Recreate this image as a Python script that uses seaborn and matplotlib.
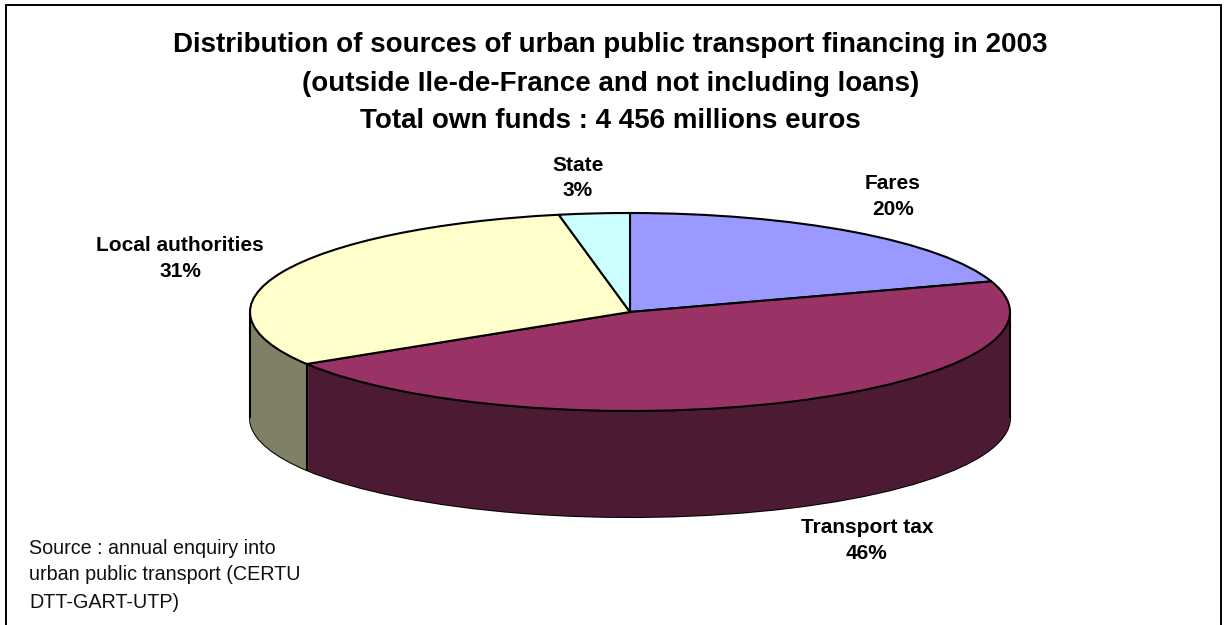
import numpy as np
import matplotlib
matplotlib.use("Agg")
import matplotlib.pyplot as plt
import seaborn as sns

categories = ["Fares", "Transport tax", "Local authorities", "State"]
shares = [20.0, 46.2, 30.8, 3.0]
top_colors = ["#9999FF", "#993366", "#FFFFCC", "#CCFFFF"]
wall_colors = ["#4D4D80", "#4D1A33", "#808066", "#668080"]
title_lines = ["Distribution of sources of urban public transport financing in 2003",
               "(outside Ile-de-France and not including loans)",
               "Total own funds : 4 456 millions euros"]
source_lines = ["Source : annual enquiry into", "urban public transport (CERTU", "DTT-GART-UTP)"]

sns.set_theme(style="white")
plt.rcParams["font.family"] = ["Liberation Sans", "DejaVu Sans"]

W, H = 1224, 625
fig = plt.figure(figsize=(W / 100, H / 100), dpi=100, facecolor="white")
px = lambda x, y: (x / W, 1 - y / H)

# Axes spans the pie horizontally and top face + wall vertically
RX, RY, DEPTH = 380, 99, 106
left, top = 250, 213
ax = fig.add_axes([left / W, 1 - (top + 2 * RY + DEPTH) / H, 2 * RX / W, (2 * RY + DEPTH) / H])

LW = 1.5
d_units = DEPTH / RY
steps = np.arange(DEPTH, 0, -1) / RY
ax.pie(shares, colors=wall_colors, startangle=90, counterclock=False, center=(0, -d_units),
       wedgeprops=dict(edgecolor="black", linewidth=LW), radius=1)
for d in steps:
    ax.pie(shares, colors=wall_colors, startangle=90, counterclock=False, center=(0, -d),
           wedgeprops=dict(edgecolor="none", linewidth=0), radius=1)
# vertical edges of the wall: both extremes and slice boundaries on the front half
angles = np.deg2rad(np.cumsum(shares) * 3.6)
for a in angles:
    if np.cos(a) < 0:
        ax.vlines(np.sin(a), np.cos(a) - d_units, np.cos(a), color="black", lw=LW, zorder=5)
ax.vlines([-1, 1], -d_units, 0, color="black", lw=LW, zorder=5)
ax.pie(shares, colors=top_colors, startangle=90, counterclock=False, center=(0, 0),
       wedgeprops=dict(edgecolor="black", linewidth=LW, zorder=6), radius=1)
ax.set_aspect("auto")
ax.set_xlim(-1, 1)
ax.set_ylim(-1 - d_units, 1)
ax.axis("off")
for art in ax.get_children():
    art.set_clip_on(False)

# chart frame, open at the bottom
for xs, ys in [((5.5, 5.5), (5, 625)), ((5.5, 1220.5), (5, 5)), ((1220.5, 1220.5), (5, 625))]:
    fig.add_artist(plt.Line2D([x / W for x in xs], [1 - y / H for y in ys], color="black", lw=1.4))

for line, y in zip(title_lines, [45, 84, 121]):
    fig.text(*px(610.5, y), line, ha="center", va="center", fontsize=20, fontweight="bold", color="black")

label_pos = [(893, 196.5), (867, 540.5), (180, 258.5), (578, 178)]
for name, share, (x, y) in zip(categories, shares, label_pos):
    fig.text(*px(x, y), f"{name}\n{round(share)}%", ha="center", va="center", fontsize=15,
             fontweight="bold", color="black", linespacing=1.45)

for line, y in zip(source_lines, [548, 575, 603]):
    fig.text(*px(29, y), line, ha="left", va="center", fontsize=14.2, color="#111111")

fig.savefig("out.png", dpi=100, facecolor="white")
